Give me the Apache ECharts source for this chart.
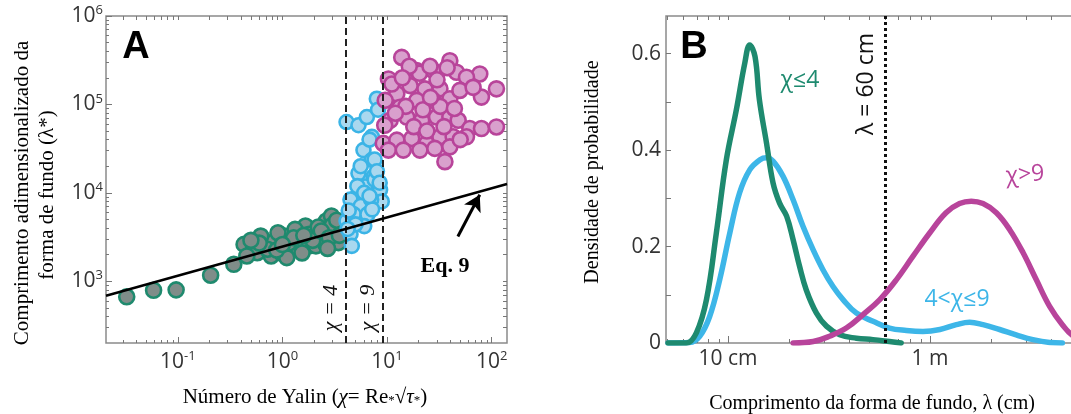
<!DOCTYPE html>
<html><head><meta charset="utf-8">
<script src="https://cdn.jsdelivr.net/npm/echarts@6/dist/echarts.min.js"></script>
<style>html,body{margin:0;padding:0;background:#fff}#c{width:1071px;height:414px;overflow:hidden}</style>
</head><body><div id="c"></div>
<script>
// ---------- Panel A: [Yalin number chi, dimensionless bedform length lambda*] ----------
const greenPts = [
  [0.0325,666],[0.0587,790],[0.0964,798],[0.206,1170],[0.343,1555],
  [0.43,2610],[0.53,2400],[0.574,2100],[0.67,2730],[0.78,1930],[0.84,2850],
  [0.98,2090],[1.05,3240],[1.23,2400],[1.43,2850],[1.66,4210],[1.80,2510],
  [2.09,3530],[2.43,2980],[2.63,4790],[2.94,5460],[3.17,3530],[3.43,2730],
  [0.62,3240],[0.906,3530],[1.32,3860],[2.09,2510],[1.54,2090],[0.457,1930],
  [1.1,1850],[2.6,2610],[1.8,3400],[0.72,2300],[1.15,2700],[2.2,4100],[3.0,4300],
  [0.6,2700],[0.88,2250],[1.28,3100],[1.95,2900],[2.35,3700],[3.3,4900],[2.8,3100],
  [0.5,2900],[1.0,2600],[1.6,3300],[2.7,2350],[3.5,3300]
];
const cyanPts = [
  [4.1,63200],[5.33,58100],[6.41,72000],[7.98,116000],[7.15,43000],[5.95,30400],
  [7.15,23500],[5.33,16600],[7.41,15200],[6.17,11800],[8.57,10800],[5.14,9080],
  [6.89,8340],[8.9,7980],[8.2,87000],[6.8,40000],[7.6,23800],[5.6,20000],
  [5.2,11900],[6.05,10000],[4.47,8400],[5.6,7080],[7.05,8400],[4.1,4790],
  [4.8,5700],[6.5,5700],[4.47,3400],[4.6,2510],[6.05,4200],[7.6,14100],
  [5.0,4400],[7.2,6500],[8.0,17500],[4.3,6300],[6.8,9200],[8.5,13000],[4.2,3900]
];
const magentaPts = [
  [13.8,340000],[10.3,194000],[19.2,241000],[27.6,241000],[39.8,312000],[46.1,231000],
  [76.9,221000],[111,150000],[79.8,121000],[57.4,203000],[32,150000],[23,150000],
  [16.6,163000],[12.4,132000],[9.6,111000],[13.3,93000],[19.2,111000],[27.6,111000],
  [39.8,116000],[49.6,144000],[66.4,156000],[10.7,66100],[15.4,72000],[21.4,66100],
  [29.7,72000],[39.8,72000],[47.8,66100],[61.7,53300],[79.8,53300],[111,55600],
  [9.2,36200],[12.4,39400],[17.2,41200],[23.9,36200],[32,43000],[42.8,43000],
  [57.4,43000],[10.3,30400],[14.3,30400],[20.6,30400],[28.6,31800],[39.8,33100],
  [35.7,22500],[20.4,225000],[25.7,270000],[37.5,260000],[16.3,270000],[11.1,170000],
  [22,87000],[32.2,95000],[15.1,95000],[12,79500],[26,120000],[44,90000],[35,56000],
  [18,56000],[50,40000],[24,50000],[9.5,58000],[14,200000],[30,190000]
];
const eq9Line = [[0.0206,685],[140,12600]];
const eq9Arrow = [[47.5,3200],[76.9,9500]];
const chiThresholds = [4, 9];
const aXTicks = [0.1, 1, 10, 100];
const aXExp = ['-1', '0', '1', '2'];
const aYTicks = [1e3, 1e4, 1e5, 1e6];
const aYExp = ['3', '4', '5', '6'];

// ---------- Panel B: [bedform length lambda (cm), probability density] ----------
const greenCurve = [
  [5.05,0],[6.22,0],[6.97,0.021],[7.82,0.090],[8.75,0.228],[9.81,0.380],[11.0,0.484],
  [12.1,0.580],[12.8,0.618],[13.6,0.594],[14.3,0.504],[15.5,0.415],[16.7,0.332],
  [18.0,0.290],[19.5,0.263],[21.0,0.214],[22.6,0.159],[24.4,0.110],[27.4,0.062],
  [30.7,0.035],[35.7,0.017],[43.2,0.010],[52.2,0.007],[63,0.003],[72,0]
];
const cyanCurve = [
  [5.05,0],[6.45,0.001],[7.24,0.014],[8.11,0.055],[9.09,0.131],[10.2,0.228],[11.4,0.311],
  [12.8,0.359],[14.4,0.380],[15.5,0.384],[16.7,0.377],[18.7,0.346],[21.0,0.297],
  [23.5,0.242],[26.4,0.193],[29.5,0.152],[33.1,0.117],[37.1,0.090],[43.2,0.062],
  [52.2,0.045],[63,0.031],[76.4,0.026],[92.3,0.024],[112,0.028],[135,0.038],
  [157,0.043],[183,0.038],[221,0.028],[267,0.017],[323,0.007],[391,0.001],[452,0]
];
const magentaCurve = [
  [21.0,0],[26.4,0.003],[31.8,0.014],[38.5,0.031],[46.6,0.059],[56.4,0.090],[68.1,0.131],
  [82.4,0.180],[99.6,0.228],[120,0.270],[140,0.289],[160,0.294],[183,0.289],[213,0.270],
  [248,0.235],[289,0.187],[336,0.131],[391,0.076],[452,0.038],[511,0.015],[617,0.003]
];
const lambdaThreshold = 60;
const bXTicks = [10, 100];
const bXLabels = ['10 cm', '1 m'];
const bYTicks = [0, 0.2, 0.4, 0.6];
const bYLabels = ['0', '0.2', '0.4', '0.6'];
const bYMinorTicks = [0, 0.1, 0.2, 0.3, 0.4, 0.5, 0.6];

// ---------- helpers (tick positions only) ----------
function minorLog(lo, hi) {
  const out = [];
  for (let e = -3; e <= 6; e++) for (let m = 2; m <= 9; m++) {
    const v = m * Math.pow(10, e);
    if (v > lo && v < hi) out.push(+v.toPrecision(3));
  }
  return out;
}
const AXMIN = 0.0206, AXMAX = 140, AYMIN = 200, AYMAX = 1e6;
const BXMIN = 4.93, BXMAX = 1000, BYMAX = 0.678;
const axisGray = '#8a8a8a';
const tickGray = '#777';
const labelColor = '#333';
const sans = '"Open Sans", "DejaVu Sans", sans-serif';
const serif = '"Liberation Serif", "DejaVu Serif", serif';

const supRich = {
  b: { fontSize: 21, fontFamily: sans, color: labelColor, lineHeight: 24 },
  s: { fontSize: 13, fontFamily: sans, color: labelColor, verticalAlign: 'top', lineHeight: 24, padding: [0,0,8,0] }
};

function tickAxis(kind, grid, pos, type, min, max, vals, len, labels) {
  const ax = {
    type, gridIndex: grid, position: pos, min, max,
    axisLine: { show: false },
    splitLine: { show: false },
    axisTick: { show: true, inside: true, length: len, customValues: vals,
      lineStyle: { color: tickGray, width: 1 } },
    axisLabel: { show: false }
  };
  if (type === 'log') ax.logBase = 10;
  if (labels) ax.axisLabel = labels;
  return ax;
}

const aXMinor = minorLog(AXMIN, AXMAX);
const aYMinor = minorLog(AYMIN, AYMAX);
const bXMinor = minorLog(BXMIN, BXMAX);

const xAxis = [
  tickAxis('x', 0, 'bottom', 'log', AXMIN, AXMAX, aXTicks, 6, {
    show: true, customValues: aXTicks, margin: 7, rich: supRich,
    formatter: v => { const i = aXTicks.findIndex(t => Math.abs(t - v) / t < 1e-6); return i < 0 ? '' : '{b|10}{s|' + aXExp[i] + '}'; }
  }),
  tickAxis('x', 0, 'bottom', 'log', AXMIN, AXMAX, aXMinor, 3),
  tickAxis('x', 0, 'top', 'log', AXMIN, AXMAX, aXTicks.concat(aXMinor), 4),
  tickAxis('x', 1, 'bottom', 'log', BXMIN, BXMAX, bXTicks, 7, {
    show: true, customValues: bXTicks, margin: 6, fontSize: 21, fontFamily: sans, color: labelColor,
    formatter: v => { const i = bXTicks.findIndex(t => Math.abs(t - v) / t < 1e-6); return i < 0 ? '' : bXLabels[i]; }
  }),
  tickAxis('x', 1, 'bottom', 'log', BXMIN, BXMAX, bXMinor, 4),
  tickAxis('x', 1, 'top', 'log', BXMIN, BXMAX, bXTicks.concat(bXMinor), 4)
];
const yAxis = [
  tickAxis('y', 0, 'left', 'log', AYMIN, AYMAX, aYTicks, 6, {
    show: true, customValues: aYTicks, margin: 3, rich: supRich,
    formatter: v => { const i = aYTicks.findIndex(t => Math.abs(t - v) / t < 1e-6); return i < 0 ? '' : '{b|10}{s|' + aYExp[i] + '}'; }
  }),
  tickAxis('y', 0, 'left', 'log', AYMIN, AYMAX, aYMinor, 3),
  tickAxis('y', 0, 'right', 'log', AYMIN, AYMAX, aYTicks.concat(aYMinor), 4),
  tickAxis('y', 1, 'left', 'value', 0, BYMAX, bYMinorTicks, 5, {
    show: true, customValues: bYTicks, margin: 5, fontSize: 21, fontFamily: sans, color: labelColor,
    formatter: v => { const i = bYTicks.findIndex(t => Math.abs(t - v) < 1e-6); return i < 0 ? '' : bYLabels[i]; }
  })
];

function scatter(name, data, fill, border, size) {
  return { name, type: 'scatter', xAxisIndex: 0, yAxisIndex: 0, data, symbolSize: size, z: 2,
    itemStyle: { color: fill, borderColor: border, borderWidth: 2.6, opacity: 1 } };
}
function curve(name, data, color, z) {
  return { name, type: 'line', xAxisIndex: 3, yAxisIndex: 3, data, smooth: 0.4, showSymbol: false,
    symbol: 'none', z, lineStyle: { color, width: 5.5, cap: 'round', join: 'round' } };
}

const option = {
  animation: false,
  backgroundColor: '#fff',
  grid: [
    { left: 106, top: 16, width: 401, height: 327, show: true, borderColor: axisGray, borderWidth: 1.5, backgroundColor: 'transparent', outerBoundsMode: 'none', containLabel: false },
    { left: 666, top: 16, width: 466, height: 327, show: true, borderColor: axisGray, borderWidth: 1.5, backgroundColor: 'transparent', outerBoundsMode: 'none', containLabel: false }
  ],
  xAxis, yAxis,
  series: [
    scatter('χ ≤ 4', greenPts, '#7f8d89', '#1f8a6e', 15),
    scatter('4 < χ ≤ 9', cyanPts, '#a9d8ef', '#3bb4e6', 14),
    scatter('χ > 9', magentaPts, '#d9a0cd', '#b8449a', 15),
    { name: 'Eq. 9', type: 'line', xAxisIndex: 0, yAxisIndex: 0, data: eq9Line, symbol: 'none', z: 5,
      lineStyle: { color: '#000', width: 2.5 },
      markLine: { silent: true, symbol: ['none', 'arrow'], symbolSize: [14, 16], label: { show: false },
        lineStyle: { color: '#000', width: 3, type: 'solid' },
        data: [[{ coord: eq9Arrow[0] }, { coord: eq9Arrow[1] }]] } },
    { name: 'thresholds', type: 'line', xAxisIndex: 0, yAxisIndex: 0, data: [], z: 6,
      markLine: { silent: true, symbol: 'none', label: { show: false },
        lineStyle: { color: '#222', width: 2, type: [7, 4] },
        data: chiThresholds.map(v => ({ xAxis: v })) } },
    curve('4 < χ ≤ 9', cyanCurve, '#3db6e8', 3),
    curve('χ ≤ 4', greenCurve, '#1e8a6f', 4),
    curve('χ > 9', magentaCurve, '#b8449b', 5),
    { name: 'lambda60', type: 'line', xAxisIndex: 3, yAxisIndex: 3, data: [], z: 6,
      markLine: { silent: true, symbol: 'none', label: { show: false },
        lineStyle: { color: '#111', width: 3, type: [3, 3] },
        data: [{ xAxis: lambdaThreshold }] } }
  ],
  graphic: [
    { type: 'text', x: 136, y: 48, style: { text: 'A', font: 'bold 38px "Liberation Sans", Arial, sans-serif', fill: '#000', align: 'center', verticalAlign: 'middle' } },
    { type: 'text', x: 694, y: 48, style: { text: 'B', font: 'bold 38px "Liberation Sans", Arial, sans-serif', fill: '#000', align: 'center', verticalAlign: 'middle' } },
    { type: 'text', x: 331, y: 308, rotation: Math.PI / 2, style: { text: 'χ = 4', font: 'italic 22px ' + serif, fill: '#111', align: 'center', verticalAlign: 'middle' } },
    { type: 'text', x: 368, y: 308, rotation: Math.PI / 2, style: { text: 'χ = 9', font: 'italic 22px ' + serif, fill: '#111', align: 'center', verticalAlign: 'middle' } },
    { type: 'text', x: 445, y: 266, style: { text: 'Eq. 9', font: 'bold 22px ' + serif, fill: '#000', align: 'center', verticalAlign: 'middle' } },
    { type: 'text', x: 22, y: 193, rotation: Math.PI / 2, style: { text: 'Comprimento adimensionalizado da', font: '21px ' + serif, fill: '#000', align: 'center', verticalAlign: 'middle' } },
    { type: 'text', x: 47, y: 195, rotation: Math.PI / 2, style: { text: 'forma de fundo (λ*)', font: '21px ' + serif, fill: '#000', align: 'center', verticalAlign: 'middle' } },
    { type: 'text', x: 305, y: 397, style: { text: '{n|Número de Yalin (}{i|χ}{n|= Re}{s|*}{n|√}{i|τ}{s|*}{n|)}', align: 'center', verticalAlign: 'middle',
      rich: { n: { font: '21px ' + serif, fill: '#000' }, i: { font: 'italic 21px ' + serif, fill: '#000' }, s: { font: '13px ' + serif, fill: '#000', verticalAlign: 'bottom', padding: [6,0,0,0] } } } },
    { type: 'text', x: 593, y: 172, rotation: Math.PI / 2, style: { text: 'Densidade de probabilidade', font: '20px ' + serif, fill: '#000', align: 'center', verticalAlign: 'middle' } },
    { type: 'text', x: 872, y: 404, style: { text: 'Comprimento da forma de fundo, λ (cm)', font: '20px ' + serif, fill: '#000', align: 'center', verticalAlign: 'middle' } },
    { type: 'text', x: 800, y: 80, style: { text: 'χ≤4', font: '23px ' + sans, fill: '#1e8a6f', align: 'center', verticalAlign: 'middle' } },
    { type: 'text', x: 866, y: 84, rotation: Math.PI / 2, style: { text: 'λ = 60 cm', font: '23px ' + sans, fill: '#111', align: 'center', verticalAlign: 'middle' } },
    { type: 'text', x: 1025, y: 175, rotation: 0.08, style: { text: 'χ>9', font: '23px ' + sans, fill: '#b8449b', align: 'center', verticalAlign: 'middle' } },
    { type: 'text', x: 957, y: 299, style: { text: '4<χ≤9', font: '23px ' + sans, fill: '#3db6e8', align: 'center', verticalAlign: 'middle' } }
  ]
};
const chart = echarts.init(document.getElementById('c'), null, { renderer: 'canvas' });
chart.setOption(option);
</script>
</body></html>
